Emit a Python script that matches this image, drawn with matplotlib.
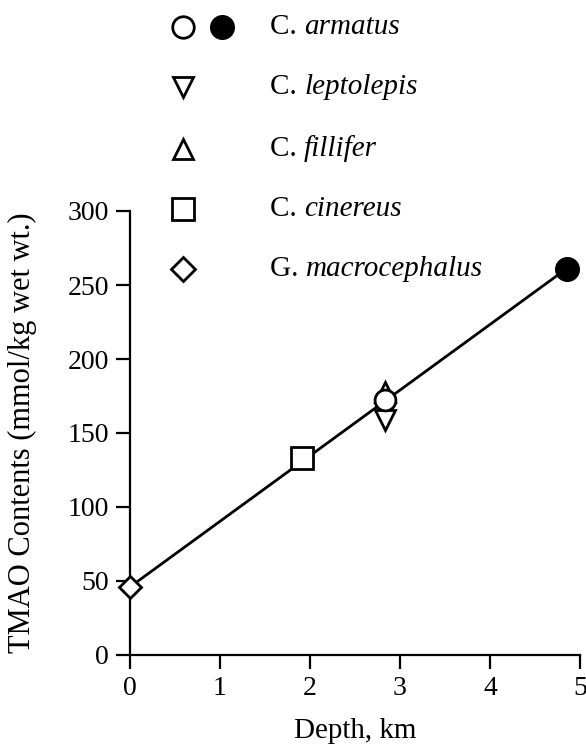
import matplotlib
matplotlib.use("Agg")
import matplotlib.pyplot as plt

# ---- data ----
species_genus = ["C.", "C.", "C.", "C.", "G."]
species_name = ["armatus", "leptolepis", "fillifer", "cinereus", "macrocephalus"]
species_marker = ["o", "v", "^", "s", "D"]

armatus_open_depth = [2.83]
armatus_open_tmao = [172]
armatus_filled_depth = [4.85]
armatus_filled_tmao = [261]
leptolepis_depth = [2.83]
leptolepis_tmao = [159]
fillifer_depth = [2.83]
fillifer_tmao = [178]
cinereus_depth = [1.91]
cinereus_tmao = [133]
macrocephalus_depth = [0.0]
macrocephalus_tmao = [46]

fit_depth = [0.0, 4.85]
fit_tmao = [46, 261]

x_ticks = [0, 1, 2, 3, 4, 5]
y_ticks = [0, 50, 100, 150, 200, 250, 300]

plt.rcParams['font.family'] = ['Liberation Serif', 'DejaVu Serif']

W, H = 586, 746
fig = plt.figure(figsize=(W / 100, H / 100), dpi=100)
ax = fig.add_axes([130 / W, (H - 655) / H, 450 / W, 444 / H])

ax.plot(fit_depth, fit_tmao, color='black', lw=2.0, zorder=2)

mk = dict(color='black', mfc='white', mec='black', mew=2.0, ls='none', zorder=3, clip_on=False)
ax.plot(fillifer_depth, fillifer_tmao, marker='^', ms=14, **mk)
ax.plot(leptolepis_depth, leptolepis_tmao, marker='v', ms=14, **mk)
ax.plot(armatus_open_depth, armatus_open_tmao, marker='o', ms=15, **mk)
ax.plot(cinereus_depth, cinereus_tmao, marker='s', ms=15.5, **mk)
ax.plot(macrocephalus_depth, macrocephalus_tmao, marker='D', ms=11.5, **mk)
ax.plot(armatus_filled_depth, armatus_filled_tmao, marker='o', ms=17, color='black',
        ls='none', zorder=3, clip_on=False)

ax.set_xlim(0, 5)
ax.set_ylim(0, 300)
ax.set_xticks(x_ticks)
ax.set_yticks(y_ticks)
for s in ['top', 'right']:
    ax.spines[s].set_visible(False)
for s in ['left', 'bottom']:
    ax.spines[s].set_linewidth(1.6)
ax.tick_params(direction='out', length=10, width=1.6, labelsize=20, pad=5)
ax.set_xlabel('Depth, km', fontsize=21, labelpad=12)
ax.set_ylabel('TMAO Contents (mmol/kg wet wt.)', fontsize=22, labelpad=22)

# ---- legend overlay in pixel coordinates ----
lax = fig.add_axes([0, 0, 1, 1])
lax.set_xlim(0, W)
lax.set_ylim(H, 0)
lax.axis('off')
row_y = [27, 87, 149, 209, 269]
msizes = [15.5, 14, 14, 15.5, 12]
for i in range(5):
    lax.plot([183], [row_y[i]], marker=species_marker[i], ms=msizes[i], mfc='white',
             mec='black', mew=2.0, ls='none')
    t = lax.text(270, row_y[i], species_genus[i] + " ", fontsize=21, va='center', ha='left')
    lax.annotate(species_name[i], xy=(1, 0.5), xycoords=t, fontsize=21, style='italic',
                 va='center', ha='left')
lax.plot([222], [row_y[0]], marker='o', ms=17, color='black', ls='none')

fig.savefig('out.png', dpi=100)
